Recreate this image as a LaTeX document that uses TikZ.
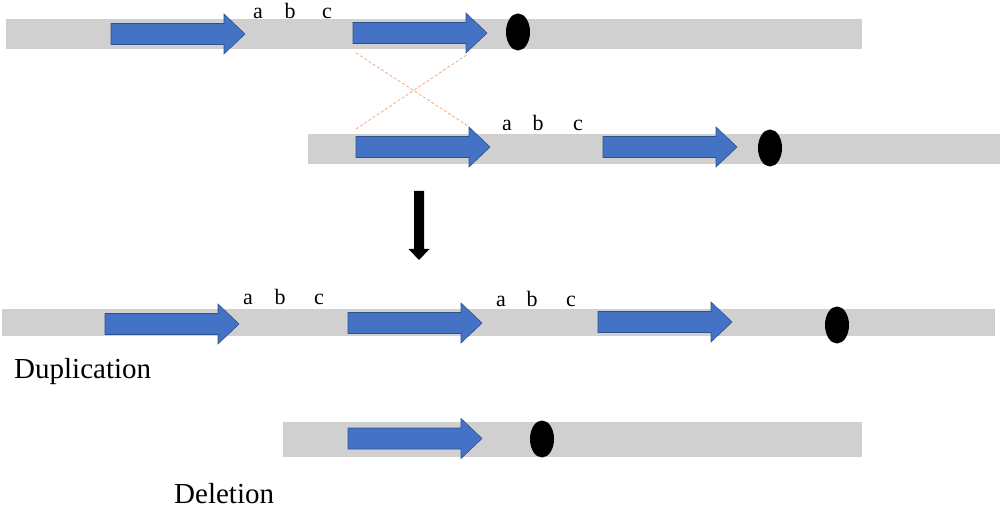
\documentclass[tikz,border=0pt]{standalone}
\usepackage{fontspec}
\setmainfont{Liberation Serif}
\usetikzlibrary{shapes.geometric}
\begin{document}
\begin{tikzpicture}[x=1pt,y=-1pt,
  bar/.style={fill=bargray,draw=none},
  gene/.style={fill=geneblue,draw=geneedge,line width=0.6pt},
  cen/.style={fill=black,draw=none,ellipse,minimum width=24pt,minimum height=37pt,inner sep=0pt},
  lab/.style={font=\fontsize{22}{22}\selectfont,anchor=base,inner sep=0pt},
  captext/.style={font=\fontsize{29}{29}\selectfont,anchor=base west,inner sep=0pt},
  cross/.style={draw=crossorange,line width=0.7pt,dash pattern=on 3pt off 2pt},
  genearrow/.pic={\path[gene] (0,-10.5)--(113,-10.5)--(113,-20)--(134,0)--(113,20)--(113,10.5)--(0,10.5)--cycle;}
]
\definecolor{bargray}{HTML}{D0D0D0}
\definecolor{geneblue}{HTML}{4472C4}
\definecolor{geneedge}{HTML}{2F528F}
\definecolor{crossorange}{HTML}{F4A070}
\useasboundingbox (0,0) rectangle (1000,510);

% bars
\path[bar] (6,19) rectangle (862,49);
\path[bar] (308,134) rectangle (1000,164);
\path[bar] (2,309) rectangle (995,336);
\path[bar] (283,422) rectangle (862,457);

% row 1
\pic (a1) at (111,34) {genearrow};
\pic (a2) at (353,33) {genearrow};
\node[cen] (c1) at (518,32) {};
\node[lab] (l1a) at (258,18.5) {a};
\node[lab] (l1b) at (290,18.5) {b};
\node[lab] (l1c) at (327,18.5) {c};

% row 2
\pic (b1) at (356,147) {genearrow};
\pic (b2) at (603,147) {genearrow};
\node[cen] (c2) at (770,148) {};
\node[lab] (l2a) at (507,131) {a};
\node[lab] (l2b) at (538,131) {b};
\node[lab] (l2c) at (578,131) {c};

% crossover
\coordinate (x1) at (356,53);
\coordinate (x2) at (468,126);
\coordinate (x3) at (356,129);
\coordinate (x4) at (468,54);
\draw[cross] (x1) -- (x2);
\draw[cross] (x3) -- (x4);

% down arrow
\coordinate (dbot) at (419,260);
\path[fill=black] (414,191) -- (424,191) -- (424,249) -- (429.5,249) -- (dbot) -- (408.5,249) -- (414,249) -- cycle;

% row 3 duplication
\pic (d1) at (105,324) {genearrow};
\pic (d2) at (348,323) {genearrow};
\pic (d3) at (598,322) {genearrow};
\node[cen] (c3) at (837,325) {};
\node[lab] (l3a) at (248,305) {a};
\node[lab] (l3b) at (280,305) {b};
\node[lab] (l3c) at (319,305) {c};
\node[lab] (l4a) at (501,306) {a};
\node[lab] (l4b) at (532,306) {b};
\node[lab] (l4c) at (571,306) {c};
\node[captext] (dup) at (14,378) {Duplication};

% row 4 deletion
\pic (e1) at (348,438.5) {genearrow};
\node[cen] (c4) at (542,439) {};
\node[captext] (del) at (174,503) {Deletion};
\end{tikzpicture}
\end{document}
